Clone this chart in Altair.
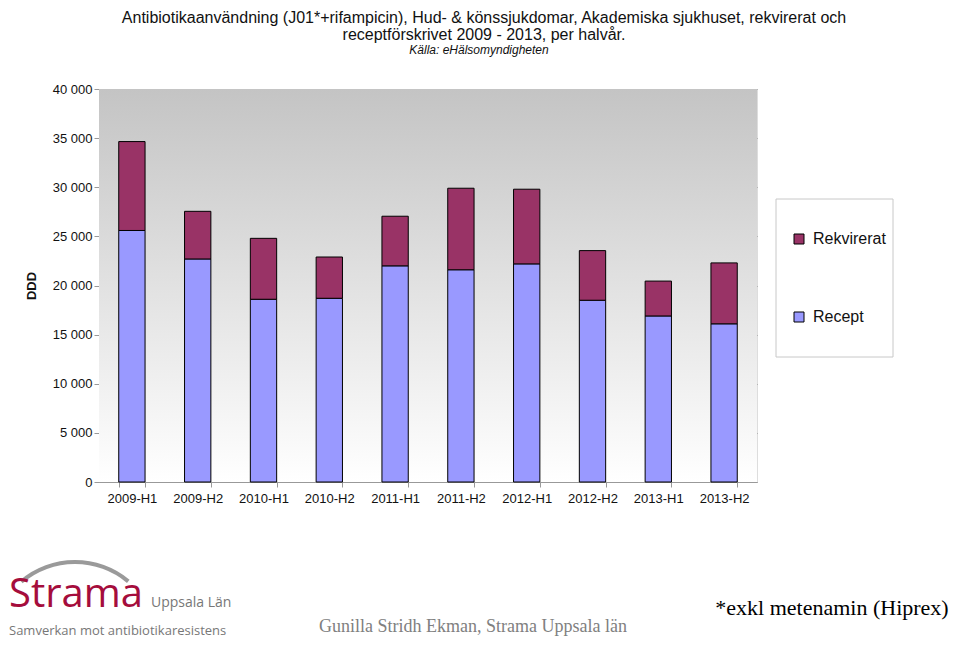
import altair as alt
import pandas as pd

periods = ["2009-H1", "2009-H2", "2010-H1", "2010-H2", "2011-H1",
           "2011-H2", "2012-H1", "2012-H2", "2013-H1", "2013-H2"]
recept = [25600, 22700, 18600, 18700, 22000, 21600, 22200, 18500, 16900, 16100]
rekvirerat = [9050, 4850, 6200, 4200, 5050, 8300, 7600, 5050, 3550, 6200]
series_names = ["Rekvirerat", "Recept"]
series_colors = ["#993366", "#9999FF"]

rows = []
for p, rc, rk in zip(periods, recept, rekvirerat):
    rows.append({"period": p, "series": "Recept", "value": rc, "ord": 0})
    rows.append({"period": p, "series": "Rekvirerat", "value": rk, "ord": 1})
df = pd.DataFrame(rows)

W, H = 658, 393
one = alt.Data(values=[{}])

bg = alt.Chart(one).mark_rect(
    fill={"gradient": "linear", "x1": 0, "x2": 0, "y1": 0, "y2": 1,
          "stops": [{"offset": 0, "color": "#c4c4c4"},
                    {"offset": 1, "color": "#ffffff"}]}
).encode(x=alt.value(0), x2=alt.value("width"), y=alt.value(0), y2=alt.value("height"))

legend_box = alt.Chart(one).mark_rect(fill="white", stroke="#c8c8c8", strokeWidth=1).encode(
    x=alt.value(677), x2=alt.value(794), y=alt.value(110), y2=alt.value(268))

bars = alt.Chart(df).mark_bar(stroke="black", strokeWidth=1).encode(
    x=alt.X("period:N", sort=periods, title=None,
            scale=alt.Scale(paddingInner=0.6, paddingOuter=0.3),
            axis=alt.Axis(labelAngle=0, labelFontSize=13, labelColor="#111",
                          tickBand="extent", tickSize=5, tickColor="#999",
                          domainColor="#999", labelPadding=5, grid=False)),
    y=alt.Y("value:Q", stack="zero", title="DDD",
            scale=alt.Scale(domain=[0, 40000], nice=False),
            axis=alt.Axis(values=list(range(0, 40001, 5000)),
                          labelExpr="replace(format(datum.value, ','), ',', ' ')",
                          labelFontSize=13, labelColor="#111", tickSize=5,
                          tickColor="#999", domainColor="#999",
                          gridColor="#8c8c8c", gridWidth=1,
                          titleFontSize=13, titleFontWeight="bold",
                          titleColor="#111", titlePadding=14)),
    color=alt.Color("series:N", scale=alt.Scale(domain=series_names, range=series_colors),
                    legend=alt.Legend(title=None, orient="none", legendX=692, legendY=142,
                                      padding=0, rowPadding=62, labelFontSize=16,
                                      labelColor="#111", symbolType="square",
                                      symbolSize=100, symbolStrokeColor="black",
                                      symbolStrokeWidth=1, labelOffset=6)),
    order=alt.Order("ord:Q", sort="ascending"),
)

def txt(s, x, y, size, color="#111", font="Liberation Sans", align="center",
        style="normal", weight="normal", baseline="middle"):
    return alt.Chart(one).mark_text(
        text=s, fontSize=size, color=color, font=font, align=align,
        fontStyle=style, fontWeight=weight, baseline=baseline
    ).encode(x=alt.value(x), y=alt.value(y))

title1 = txt("Antibiotikaanvändning (J01*+rifampicin), Hud- & könssjukdomar, Akademiska sjukhuset, rekvirerat och",
             385, -71, 16)
title2 = txt("receptförskrivet 2009 - 2013, per halvår.", 385, -54, 16)
source = txt("Källa: eHälsomyndigheten", 380, -39, 12, style="italic")

strama = txt("Strama", -90, 518, 40, color="#a50d3c", font="Open Sans",
             align="left", baseline="alphabetic")
uppsala = txt("Uppsala Län", 52, 518, 14, color="#777777", font="Open Sans",
              align="left", baseline="alphabetic")
samverkan = txt("Samverkan mot antibiotikaresistens", -90, 546, 13, color="#777777",
                font="Open Sans", align="left", baseline="alphabetic")
arc = alt.Chart(one).mark_arc(color="#9a9a9a").encode(
    x=alt.value(-24), y=alt.value(556), theta=alt.value(5.58), theta2=alt.value(6.98),
    radius=alt.value(85), radius2=alt.value(81))
footer = txt("Gunilla Stridh Ekman, Strama Uppsala län", 374, 538, 18, color="#808080",
             font="Liberation Serif")
exkl = txt("*exkl metenamin (Hiprex)", 733, 519, 22, color="#000000", font="Liberation Serif")

chart = alt.layer(
    bg, legend_box, bars, title1, title2, source, arc, strama, uppsala, samverkan, footer, exkl
).properties(
    width=W, height=H, autosize="none",
    padding={"left": 91, "top": 81, "right": 195, "bottom": 157}
).configure_view(stroke="#999999", strokeWidth=1).configure(font="Liberation Sans")

chart.save("out.html", embed_options={"renderer": "svg", "actions": False})
